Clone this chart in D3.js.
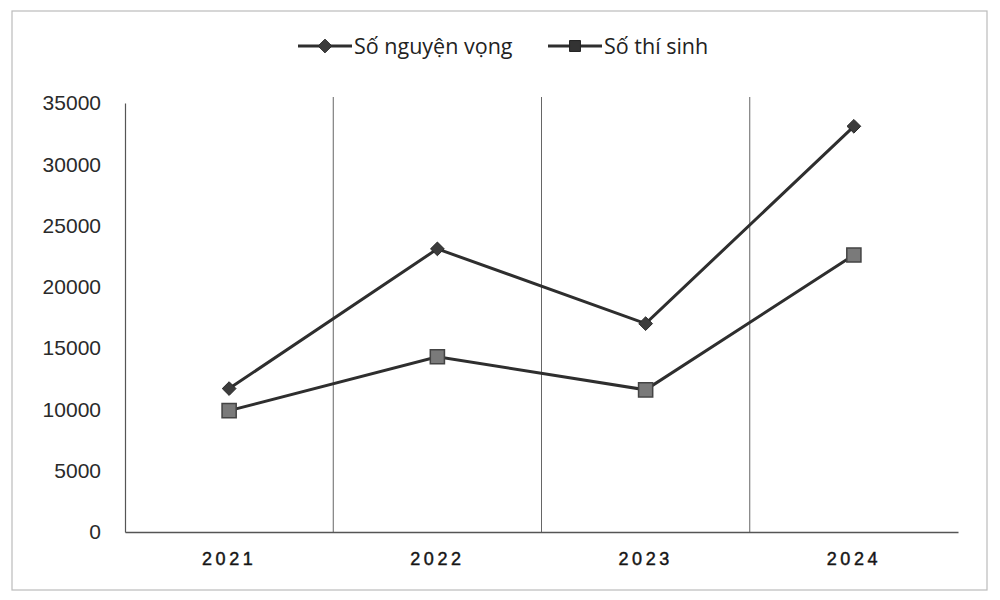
<!DOCTYPE html>
<html><head><meta charset="utf-8">
<script src="https://cdn.jsdelivr.net/npm/d3@7"></script>
<style>body{margin:0;background:#fff}svg{display:block}</style>
</head><body>
<svg id="c" width="1000" height="600"></svg>
<script>
const years = ["2021","2022","2023","2024"];
const nguyenVong = [11700, 23100, 17000, 33100];
const thiSinh = [9900, 14300, 11600, 22600];
const yTicks = [0,5000,10000,15000,20000,25000,30000,35000];
const seriesNames = ["Số nguyện vọng","Số thí sinh"];

const svg = d3.select("#c");
const m = {l:125, r:958, t:103, b:532};

svg.append("rect").attr("x",12).attr("y",11).attr("width",975).attr("height",579)
  .attr("fill","none").attr("stroke","#bbb").attr("stroke-width",1.2);

const x = d3.scaleBand().domain(years).range([m.l,m.r]).padding(0);
const y = d3.scaleLinear().domain([0,35000]).range([m.b,m.t]);

// vertical gridlines at category boundaries
const g = svg.append("g");
g.selectAll("line.grid").data(years.slice(1)).join("line")
  .attr("x1",d=>x(d)).attr("x2",d=>x(d)).attr("y1",97).attr("y2",m.b)
  .attr("stroke","#666").attr("stroke-width",1);

// y axis
const ya = svg.append("g").attr("transform",`translate(${m.l},0)`)
  .call(d3.axisLeft(y).tickValues(yTicks).tickSize(0).tickPadding(24).tickFormat(d3.format("d")));
ya.select(".domain").attr("stroke","#555").attr("stroke-width",1.2);
ya.selectAll("text").attr("font-family","Liberation Sans, Arial, sans-serif").attr("font-size",21).attr("fill","#2a2a2a");

// x axis
const xa = svg.append("g").attr("transform",`translate(0,${m.b})`)
  .call(d3.axisBottom(x).tickSize(0).tickPadding(20));
xa.select(".domain").attr("stroke","#555").attr("stroke-width",1.5);
xa.selectAll("text").attr("font-family","Liberation Sans, Arial, sans-serif").attr("font-size",18)
  .attr("letter-spacing","3.5px").attr("fill","#151515").attr("stroke","#151515").attr("stroke-width",0.45);

const line = d3.line().x((d,i)=>x(years[i])+x.bandwidth()/2).y(d=>y(d));

svg.append("path").datum(thiSinh).attr("d",line).attr("fill","none")
  .attr("stroke","#2e2e2e").attr("stroke-width",3);
svg.append("path").datum(nguyenVong).attr("d",line).attr("fill","none")
  .attr("stroke","#2e2e2e").attr("stroke-width",3);

const diamond = d3.symbol().type(d3.symbolDiamond2).size(120);
const square = d3.symbol().type(d3.symbolSquare).size(200);

svg.selectAll("path.dm").data(nguyenVong).join("path").attr("class","dm")
  .attr("d",diamond).attr("transform",(d,i)=>`translate(${x(years[i])+x.bandwidth()/2},${y(d)})`)
  .attr("fill","#3c3c3c").attr("stroke","#2a2a2a").attr("stroke-width",1);
svg.selectAll("path.sq").data(thiSinh).join("path").attr("class","sq")
  .attr("d",square).attr("transform",(d,i)=>`translate(${x(years[i])+x.bandwidth()/2},${y(d)})`)
  .attr("fill","#7a7a7a").attr("stroke","#444").attr("stroke-width",1.5);

// legend
const leg = svg.append("g").attr("font-family","Open Sans, Noto Sans, sans-serif").attr("font-size",21.5).attr("fill","#222");
const legItems = [{x:298, sym:diamond, fill:"#3c3c3c", st:"#2a2a2a", name:seriesNames[0]},
                  {x:548, sym:d3.symbol().type(d3.symbolSquare).size(120), fill:"#333", st:"#222", name:seriesNames[1]}];
legItems.forEach(it=>{
  leg.append("line").attr("x1",it.x).attr("x2",it.x+54).attr("y1",46).attr("y2",46).attr("stroke","#2e2e2e").attr("stroke-width",3);
  leg.append("path").attr("d",it.sym).attr("transform",`translate(${it.x+27},46)`).attr("fill",it.fill).attr("stroke",it.st);
  leg.append("text").attr("x",it.x+56).attr("y",54).text(it.name);
});
</script>
</body></html>
